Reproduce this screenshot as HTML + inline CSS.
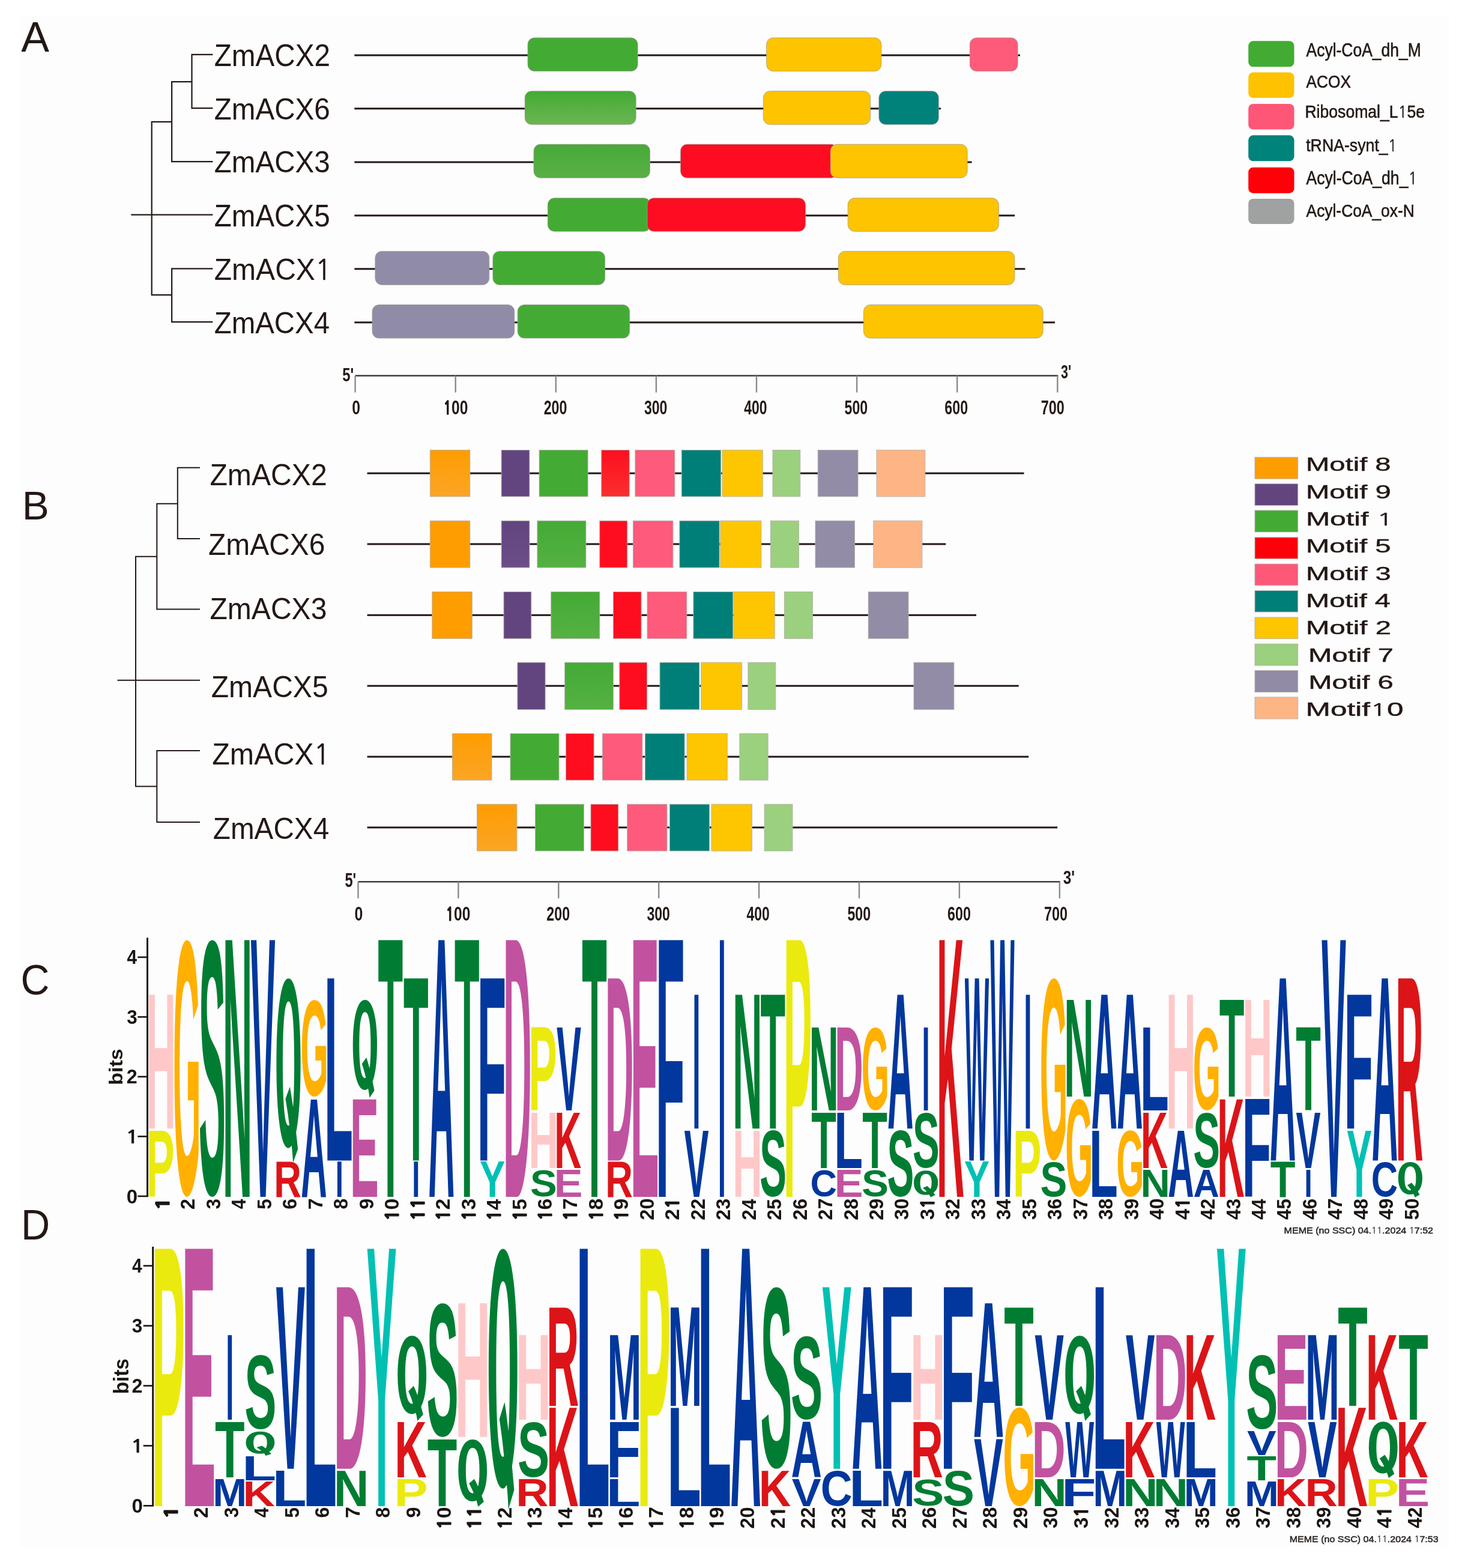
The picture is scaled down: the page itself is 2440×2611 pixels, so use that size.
<!DOCTYPE html>
<html><head><meta charset="utf-8"><title>ZmACX figure</title><style>html,body{margin:0;padding:0;background:#fff;}svg{display:block;}text{font-kerning:none;white-space:pre;}.LSr{font-family:"Liberation Sans",Arial,sans-serif;font-weight:400;}.LSb{font-family:"Liberation Sans",Arial,sans-serif;font-weight:700;}.QF{font-family:"IPAGothic","Liberation Sans",sans-serif;font-weight:700;}.NG{font-family:"NanumGothic","Liberation Sans",sans-serif;font-weight:700;}.NGr{font-family:"NanumGothic","Liberation Sans",sans-serif;font-weight:400;}</style></head><body><svg width="2440" height="2611" viewBox="0 0 2440 2611"><rect x="0" y="0" width="2440" height="2611" fill="#ffffff"/>
<rect x="33" y="27" width="2380" height="2549" fill="#fdfdfd"/>
<text class="LSr" transform="matrix(1.0072 0 0 1 35.363 85.6)" font-size="69.6233" fill="#231815">A</text>
<text class="LSr" transform="matrix(0.998 0 0 1 36.7668 865.1)" font-size="67.5884" fill="#231815">B</text>
<text class="LSr" transform="matrix(0.9545 0 0 1 34.5322 1655.6)" font-size="69.4779" fill="#231815">C</text>
<text class="LSr" transform="matrix(0.9539 0 0 1 34.9293 2063.8)" font-size="69.914" fill="#231815">D</text>
<path d="M319.5 90.9L353.3 90.9M319.5 90.9L319.5 180.2M319.5 180.2L353.3 180.2M286.1 136.1L319.5 136.1M286.1 136.1L286.1 269.2M286.1 269.2L353.3 269.2M252.7 202.9L286.1 202.9M252.7 202.9L252.7 491.2M219.4 357.7L353.3 357.7M252.7 491.2L286.1 491.2M286.1 447.3L286.1 536.2M286.1 447.3L353.3 447.3M286.1 536.2L353.3 536.2" stroke="#231815" stroke-width="2.2" fill="none" stroke-linecap="square"/>
<path d="M295.8 778.8L332 778.8M295.8 778.8L295.8 897.1M295.8 897.1L332 897.1M261.3 838.7L295.8 838.7M261.3 838.7L261.3 1014.4M261.3 1014.4L332 1014.4M226 926.7L261.3 926.7M226 926.7L226 1309.4M196.5 1132.7L332 1132.7M226 1309.4L261.3 1309.4M261.3 1249.9L261.3 1368.9M261.3 1249.9L332 1249.9M261.3 1368.9L332 1368.9" stroke="#231815" stroke-width="2.0" fill="none" stroke-linecap="square"/>
<text class="LSr" transform="matrix(0.9373 0 0 1 356.6866 109.8)" font-size="50.873" fill="#231815">ZmACX2</text>
<text class="LSr" transform="matrix(0.9358 0 0 1 356.689 199.1)" font-size="50.873" fill="#231815">ZmACX6</text>
<text class="LSr" transform="matrix(0.9358 0 0 1 356.689 287.4)" font-size="50.873" fill="#231815">ZmACX3</text>
<text class="LSr" transform="matrix(0.9354 0 0 1 356.6898 377)" font-size="50.873" fill="#231815">ZmACX5</text>
<text class="LSr" transform="matrix(0.9452 0 0 1 356.6739 465.9)" font-size="50.873" fill="#231815">ZmACX<tspan class="NGr" font-size="47.1063" stroke="#231815" stroke-width="0.6105">1</tspan></text>
<text class="LSr" transform="matrix(0.9324 0 0 1 356.6946 554.6)" font-size="50.873" fill="#231815">ZmACX4</text>
<text class="LSr" transform="matrix(0.9599 0 0 1 349.4722 808)" font-size="50.1462" fill="#231815">ZmACX2</text>
<text class="LSr" transform="matrix(0.9559 0 0 1 347.0787 924.2)" font-size="50.1462" fill="#231815">ZmACX6</text>
<text class="LSr" transform="matrix(0.9584 0 0 1 349.4747 1030.9)" font-size="50.1462" fill="#231815">ZmACX3</text>
<text class="LSr" transform="matrix(0.9589 0 0 1 351.6738 1161.2)" font-size="50.1462" fill="#231815">ZmACX5</text>
<text class="LSr" transform="matrix(0.9652 0 0 1 353.2639 1272.7)" font-size="50.1462" fill="#231815">ZmACX<tspan class="NGr" font-size="46.4334" stroke="#231815" stroke-width="0.6018">1</tspan></text>
<text class="LSr" transform="matrix(0.9509 0 0 1 354.7866 1396.8)" font-size="50.1462" fill="#231815">ZmACX4</text>
<defs><linearGradient id="g2" x1="0" y1="0" x2="0" y2="1"><stop offset="0" stop-color="#43ab34"/><stop offset="1" stop-color="#6bb652"/></linearGradient><linearGradient id="g3" x1="0" y1="0" x2="0" y2="1"><stop offset="0" stop-color="#46ab38"/><stop offset="1" stop-color="#5aaf45"/></linearGradient><linearGradient id="gG" x1="0" y1="0" x2="0" y2="1"><stop offset="0" stop-color="#43ab34"/><stop offset="1" stop-color="#55b143"/></linearGradient><linearGradient id="gO" x1="0" y1="0" x2="0" y2="1"><stop offset="0" stop-color="#fe9d00"/><stop offset="1" stop-color="#fba526"/></linearGradient><linearGradient id="gR" x1="0" y1="0" x2="0" y2="1"><stop offset="0" stop-color="#fe0f1f"/><stop offset="1" stop-color="#fa2e2e"/></linearGradient><linearGradient id="gPu" x1="0" y1="0" x2="0" y2="1"><stop offset="0" stop-color="#62457f"/><stop offset="1" stop-color="#6b4d88"/></linearGradient></defs>
<rect x="590.3" y="90.5" width="1108.7" height="3" fill="#231815"/>
<rect x="879" y="62.9" width="183.1" height="55.6" rx="11" ry="11" fill="#43ab34" stroke="#a09a90" stroke-width="0.8"/>
<rect x="1276.6" y="62.9" width="191.2" height="55.6" rx="11" ry="11" fill="#fec400" stroke="#a09a90" stroke-width="0.8"/>
<rect x="1615.3" y="62.9" width="79.8" height="55.6" rx="11" ry="11" fill="#fe5b7a" stroke="#a09a90" stroke-width="0.8"/>
<rect x="590.3" y="179.3" width="976.6" height="3" fill="#231815"/>
<rect x="874.2" y="151.7" width="185" height="55.6" rx="11" ry="11" fill="url(#g2)" stroke="#a09a90" stroke-width="0.8"/>
<rect x="1271.4" y="151.7" width="178.3" height="55.6" rx="11" ry="11" fill="#fec400" stroke="#a09a90" stroke-width="0.8"/>
<rect x="1463.9" y="151.7" width="99.4" height="55.6" rx="11" ry="11" fill="#00827b" stroke="#a09a90" stroke-width="0.8"/>
<rect x="590.3" y="268.5" width="1028.3" height="3" fill="#231815"/>
<rect x="889" y="240.3" width="193.5" height="55.9" rx="11" ry="11" fill="url(#g3)" stroke="#a09a90" stroke-width="0.8"/>
<rect x="1133.5" y="240.3" width="261.5" height="55.9" rx="11" ry="11" fill="#fe0c22" stroke="#a09a90" stroke-width="0.8"/>
<rect x="1383.2" y="240.3" width="227.9" height="55.9" rx="11" ry="11" fill="#fec400" stroke="#a09a90" stroke-width="0.8"/>
<rect x="590.3" y="357.4" width="1099.9" height="3" fill="#231815"/>
<rect x="912.3" y="329.8" width="171.1" height="55.5" rx="11" ry="11" fill="#43ab34" stroke="#a09a90" stroke-width="0.8"/>
<rect x="1078" y="329.8" width="263.5" height="55.5" rx="11" ry="11" fill="#fe0c22" stroke="#a09a90" stroke-width="0.8"/>
<rect x="1412.2" y="329.8" width="251.2" height="55.5" rx="11" ry="11" fill="#fec400" stroke="#a09a90" stroke-width="0.8"/>
<rect x="590.3" y="446.3" width="1117.1" height="3" fill="#231815"/>
<rect x="624.9" y="418.4" width="189.9" height="55.9" rx="11" ry="11" fill="#908ca8" stroke="#a09a90" stroke-width="0.8"/>
<rect x="820.9" y="418.4" width="186.7" height="55.9" rx="11" ry="11" fill="#43ab34" stroke="#a09a90" stroke-width="0.8"/>
<rect x="1396.4" y="418.4" width="293.5" height="55.9" rx="11" ry="11" fill="#fec400" stroke="#a09a90" stroke-width="0.8"/>
<rect x="590.3" y="535.4" width="1166.7" height="3" fill="#231815"/>
<rect x="620" y="507.5" width="236.8" height="55.6" rx="11" ry="11" fill="#908ca8" stroke="#a09a90" stroke-width="0.8"/>
<rect x="862.2" y="507.5" width="186.4" height="55.6" rx="11" ry="11" fill="#43ab34" stroke="#a09a90" stroke-width="0.8"/>
<rect x="1438.4" y="507.5" width="298.7" height="55.6" rx="11" ry="11" fill="#fec400" stroke="#a09a90" stroke-width="0.8"/>
<rect x="591.6" y="624.4" width="1170.7" height="2.4" fill="#3a3330"/><rect x="590.4" y="625.6" width="2.4" height="27.9" fill="#8c8a88"/><rect x="757.5" y="625.6" width="2.4" height="27.9" fill="#8c8a88"/><rect x="924.6" y="625.6" width="2.4" height="27.9" fill="#8c8a88"/><rect x="1091.7" y="625.6" width="2.4" height="27.9" fill="#8c8a88"/><rect x="1258.8" y="625.6" width="2.4" height="27.9" fill="#8c8a88"/><rect x="1425.9" y="625.6" width="2.4" height="27.9" fill="#8c8a88"/><rect x="1593" y="625.6" width="2.4" height="27.9" fill="#8c8a88"/><rect x="1760.1" y="625.6" width="2.4" height="27.9" fill="#8c8a88"/><text class="LSb" transform="matrix(0.7507 0 0 1 586.2187 689.6772)" font-size="33.0505" fill="#231815">0</text><text class="LSb" transform="matrix(0.7437 0 0 1 738.5311 689.6772)" font-size="33.0505" fill="#231815"><tspan class="NG" font-size="30.0374" stroke="#231815" stroke-width="1.322">1</tspan>00</text><text class="LSb" transform="matrix(0.7029 0 0 1 905.6947 689.6772)" font-size="33.0505" fill="#231815">200</text><text class="LSb" transform="matrix(0.6992 0 0 1 1072.9708 689.6296)" font-size="32.9822" fill="#231815">300</text><text class="LSb" transform="matrix(0.6943 0 0 1 1239.3526 689.6772)" font-size="33.0505" fill="#231815">400</text><text class="LSb" transform="matrix(0.7011 0 0 1 1406.5872 689.6772)" font-size="33.0505" fill="#231815">500</text><text class="LSb" transform="matrix(0.7037 0 0 1 1573.3483 689.6772)" font-size="33.0505" fill="#231815">600</text><text class="LSb" transform="matrix(0.7065 0 0 1 1733.7966 689.6772)" font-size="33.0505" fill="#231815">700</text><text class="LSb" transform="matrix(0.751 0 0 1 570.1649 635.0893)" font-size="31.8164" fill="#231815">5'</text><text class="LSb" transform="matrix(0.6765 0 0 1 1766.9054 629.6423)" font-size="31.8546" fill="#231815">3'</text>
<rect x="596.5" y="1467.1" width="1169.3" height="2.4" fill="#3a3330"/><rect x="595.3" y="1468.3" width="2.4" height="27.6" fill="#8c8a88"/><rect x="762.2" y="1468.3" width="2.4" height="27.6" fill="#8c8a88"/><rect x="929.1" y="1468.3" width="2.4" height="27.6" fill="#8c8a88"/><rect x="1096" y="1468.3" width="2.4" height="27.6" fill="#8c8a88"/><rect x="1262.9" y="1468.3" width="2.4" height="27.6" fill="#8c8a88"/><rect x="1429.8" y="1468.3" width="2.4" height="27.6" fill="#8c8a88"/><rect x="1596.7" y="1468.3" width="2.4" height="27.6" fill="#8c8a88"/><rect x="1763.6" y="1468.3" width="2.4" height="27.6" fill="#8c8a88"/><text class="LSb" transform="matrix(0.7605 0 0 1 590.4187 1532.6814)" font-size="32.6268" fill="#231815">0</text><text class="LSb" transform="matrix(0.7534 0 0 1 742.5311 1532.6814)" font-size="32.6268" fill="#231815"><tspan class="NG" font-size="29.6523" stroke="#231815" stroke-width="1.3051">1</tspan>00</text><text class="LSb" transform="matrix(0.712 0 0 1 910.2947 1532.6814)" font-size="32.6268" fill="#231815">200</text><text class="LSb" transform="matrix(0.7083 0 0 1 1077.4708 1532.6343)" font-size="32.5594" fill="#231815">300</text><text class="LSb" transform="matrix(0.7034 0 0 1 1243.4526 1532.6814)" font-size="32.6268" fill="#231815">400</text><text class="LSb" transform="matrix(0.7102 0 0 1 1411.3872 1532.6814)" font-size="32.6268" fill="#231815">500</text><text class="LSb" transform="matrix(0.7129 0 0 1 1578.0483 1532.6814)" font-size="32.6268" fill="#231815">600</text><text class="LSb" transform="matrix(0.7157 0 0 1 1738.9966 1532.6814)" font-size="32.6268" fill="#231815">700</text><text class="LSb" transform="matrix(0.7133 0 0 1 574.4736 1476.6767)" font-size="33.1062" fill="#231815">5'</text><text class="LSb" transform="matrix(0.7571 0 0 1 1770.7416 1472.1391)" font-size="32.1365" fill="#231815">3'</text>
<rect x="2079.2" y="68.3" width="76.3" height="43" rx="8" ry="8" fill="#43ab34"/>
<text class="LSr" transform="matrix(0.8434 0 0 1 2175.5483 93.9)" font-size="31.3959" fill="#231815" stroke="#231815" stroke-width="0.6">Acyl-CoA_dh_M</text>
<rect x="2079.2" y="120.4" width="76.3" height="42.7" rx="8" ry="8" fill="#fec200"/>
<text class="LSr" transform="matrix(0.8942 0 0 1 2175.5487 146.1)" font-size="29.361" fill="#231815" stroke="#231815" stroke-width="0.6">ACOX</text>
<rect x="2079.2" y="173" width="76.3" height="42.6" rx="8" ry="8" fill="#fe5677"/>
<text class="LSr" transform="matrix(0.9105 0 0 1 2173.418 196.4)" font-size="29.2156" fill="#231815" stroke="#231815" stroke-width="0.6">Ribosomal_L<tspan class="NGr" font-size="27.0525" stroke="#231815" stroke-width="0.3506">1</tspan>5e</text>
<rect x="2079.2" y="225.3" width="76.3" height="43" rx="8" ry="8" fill="#00837a"/>
<text class="LSr" transform="matrix(0.8916 0 0 1 2175.1959 252.2)" font-size="29.9424" fill="#231815" stroke="#231815" stroke-width="0.6">tRNA-synt_<tspan class="NGr" font-size="27.7254" stroke="#231815" stroke-width="0.3593">1</tspan></text>
<rect x="2079.2" y="278.7" width="76.3" height="43" rx="8" ry="8" fill="#fe0007"/>
<text class="LSr" transform="matrix(0.867 0 0 1 2175.5481 307.1)" font-size="30.6691" fill="#231815" stroke="#231815" stroke-width="0.6">Acyl-CoA_dh_<tspan class="NGr" font-size="28.3984" stroke="#231815" stroke-width="0.368">1</tspan></text>
<rect x="2079.2" y="330.9" width="76.3" height="42.1" rx="8" ry="8" fill="#a0a1a1"/>
<text class="LSr" transform="matrix(0.8768 0 0 1 2175.5485 361.1)" font-size="30.0877" fill="#231815" stroke="#231815" stroke-width="0.6">Acyl-CoA_ox-N</text>
<rect x="611.6" y="786.6" width="1093.9" height="3" fill="#231815"/>
<rect x="716.3" y="749.4" width="66.5" height="77.5" fill="url(#gO)" stroke="#b4b0aa" stroke-width="0.9"/>
<rect x="835.1" y="749.4" width="46.8" height="77.5" fill="#62457f" stroke="#b4b0aa" stroke-width="0.9"/>
<rect x="898.1" y="749.4" width="81" height="77.5" fill="#43ab34" stroke="#b4b0aa" stroke-width="0.9"/>
<rect x="1001.7" y="749.4" width="46.5" height="77.5" fill="url(#gR)" stroke="#b4b0aa" stroke-width="0.9"/>
<rect x="1057.9" y="749.4" width="65.9" height="77.5" fill="#fe5a7b" stroke="#b4b0aa" stroke-width="0.9"/>
<rect x="1135.2" y="749.4" width="65.5" height="77.5" fill="#007f78" stroke="#b4b0aa" stroke-width="0.9"/>
<rect x="1203" y="749.4" width="67.2" height="77.5" fill="#fec600" stroke="#b4b0aa" stroke-width="0.9"/>
<rect x="1287" y="749.4" width="45.8" height="77.5" fill="#9bd07e" stroke="#b4b0aa" stroke-width="0.9"/>
<rect x="1362.2" y="749.4" width="66.8" height="77.5" fill="#928ca7" stroke="#b4b0aa" stroke-width="0.9"/>
<rect x="1460" y="749.4" width="80.8" height="77.5" fill="#feb585" stroke="#b4b0aa" stroke-width="0.9"/>
<rect x="611.6" y="904.5" width="963.7" height="3" fill="#231815"/>
<rect x="716.3" y="867.2" width="66.5" height="77.9" fill="#fe9d00" stroke="#b4b0aa" stroke-width="0.9"/>
<rect x="835.1" y="867.2" width="46.8" height="77.9" fill="url(#gPu)" stroke="#b4b0aa" stroke-width="0.9"/>
<rect x="894.9" y="867.2" width="81" height="77.9" fill="url(#gG)" stroke="#b4b0aa" stroke-width="0.9"/>
<rect x="998.8" y="867.2" width="45.9" height="77.9" fill="#fe0d1f" stroke="#b4b0aa" stroke-width="0.9"/>
<rect x="1054.4" y="867.2" width="66.5" height="77.9" fill="#fe5a7b" stroke="#b4b0aa" stroke-width="0.9"/>
<rect x="1131.9" y="867.2" width="66.2" height="77.9" fill="#007f78" stroke="#b4b0aa" stroke-width="0.9"/>
<rect x="1199.8" y="867.2" width="68.1" height="77.9" fill="#fec600" stroke="#b4b0aa" stroke-width="0.9"/>
<rect x="1283.4" y="867.2" width="47.1" height="77.9" fill="#9bd07e" stroke="#b4b0aa" stroke-width="0.9"/>
<rect x="1358" y="867.2" width="65.5" height="77.9" fill="#928ca7" stroke="#b4b0aa" stroke-width="0.9"/>
<rect x="1454.9" y="867.2" width="81" height="77.9" fill="#feb585" stroke="#b4b0aa" stroke-width="0.9"/>
<rect x="611.6" y="1022.8" width="1014.4" height="3" fill="#231815"/>
<rect x="719.8" y="985.5" width="66.5" height="77.8" fill="#fe9d00" stroke="#b4b0aa" stroke-width="0.9"/>
<rect x="839" y="985.5" width="45.8" height="77.8" fill="#62457f" stroke="#b4b0aa" stroke-width="0.9"/>
<rect x="917.8" y="985.5" width="81" height="77.8" fill="url(#gG)" stroke="#b4b0aa" stroke-width="0.9"/>
<rect x="1021.4" y="985.5" width="46.6" height="77.8" fill="#fe0d1f" stroke="#b4b0aa" stroke-width="0.9"/>
<rect x="1078" y="985.5" width="65.8" height="77.8" fill="#fe5a7b" stroke="#b4b0aa" stroke-width="0.9"/>
<rect x="1154.9" y="985.5" width="65.9" height="77.8" fill="#007f78" stroke="#b4b0aa" stroke-width="0.9"/>
<rect x="1222" y="985.5" width="68.2" height="77.8" fill="#fec600" stroke="#b4b0aa" stroke-width="0.9"/>
<rect x="1306.3" y="985.5" width="47.2" height="77.8" fill="#9bd07e" stroke="#b4b0aa" stroke-width="0.9"/>
<rect x="1446.2" y="985.5" width="66.8" height="77.8" fill="#928ca7" stroke="#b4b0aa" stroke-width="0.9"/>
<rect x="611.6" y="1140.6" width="1085.1" height="3" fill="#231815"/>
<rect x="861.9" y="1103.1" width="46.2" height="78.4" fill="#62457f" stroke="#b4b0aa" stroke-width="0.9"/>
<rect x="940.7" y="1103.1" width="80.7" height="78.4" fill="url(#gG)" stroke="#b4b0aa" stroke-width="0.9"/>
<rect x="1031.8" y="1103.1" width="45.8" height="78.4" fill="#fe0d1f" stroke="#b4b0aa" stroke-width="0.9"/>
<rect x="1099" y="1103.1" width="65.8" height="78.4" fill="#007f78" stroke="#b4b0aa" stroke-width="0.9"/>
<rect x="1167.8" y="1103.1" width="67.8" height="78.4" fill="#fec600" stroke="#b4b0aa" stroke-width="0.9"/>
<rect x="1245.9" y="1103.1" width="45.9" height="78.4" fill="#9bd07e" stroke="#b4b0aa" stroke-width="0.9"/>
<rect x="1522" y="1103.1" width="66.9" height="78.4" fill="#928ca7" stroke="#b4b0aa" stroke-width="0.9"/>
<rect x="611.6" y="1258.6" width="1101.6" height="3" fill="#231815"/>
<rect x="753.4" y="1221.6" width="65.6" height="77.5" fill="url(#gO)" stroke="#b4b0aa" stroke-width="0.9"/>
<rect x="850" y="1221.6" width="81" height="77.5" fill="#43ab34" stroke="#b4b0aa" stroke-width="0.9"/>
<rect x="942.6" y="1221.6" width="46.5" height="77.5" fill="#fe0d1f" stroke="#b4b0aa" stroke-width="0.9"/>
<rect x="1003.4" y="1221.6" width="66.5" height="77.5" fill="#fe5a7b" stroke="#b4b0aa" stroke-width="0.9"/>
<rect x="1074.4" y="1221.6" width="65.7" height="77.5" fill="#007f78" stroke="#b4b0aa" stroke-width="0.9"/>
<rect x="1144.1" y="1221.6" width="67.2" height="77.5" fill="#fec600" stroke="#b4b0aa" stroke-width="0.9"/>
<rect x="1231.9" y="1221.6" width="47.2" height="77.5" fill="#9bd07e" stroke="#b4b0aa" stroke-width="0.9"/>
<rect x="611.6" y="1376.4" width="1149.6" height="3" fill="#231815"/>
<rect x="794.4" y="1339.2" width="66.5" height="77.8" fill="url(#gO)" stroke="#b4b0aa" stroke-width="0.9"/>
<rect x="891.6" y="1339.2" width="80.8" height="77.8" fill="#43ab34" stroke="#b4b0aa" stroke-width="0.9"/>
<rect x="984" y="1339.2" width="45.8" height="77.8" fill="#fe0d1f" stroke="#b4b0aa" stroke-width="0.9"/>
<rect x="1044.7" y="1339.2" width="66.2" height="77.8" fill="#fe5a7b" stroke="#b4b0aa" stroke-width="0.9"/>
<rect x="1115.4" y="1339.2" width="66.1" height="77.8" fill="#007f78" stroke="#b4b0aa" stroke-width="0.9"/>
<rect x="1185" y="1339.2" width="67.5" height="77.8" fill="#fec600" stroke="#b4b0aa" stroke-width="0.9"/>
<rect x="1273.1" y="1339.2" width="46.9" height="77.8" fill="#9bd07e" stroke="#b4b0aa" stroke-width="0.9"/>
<rect x="2090" y="761.3" width="71.7" height="35.9" fill="#fe9d00" stroke="#b4b0aa" stroke-width="0.9"/>
<text class="LSr" transform="matrix(1.4962 0 0 1 2175.0288 784.2)" font-size="31.5412" fill="#231815" stroke="#231815" stroke-width="0.45">Motif 8</text>
<rect x="2090" y="805.7" width="71.7" height="36" fill="#62457f" stroke="#b4b0aa" stroke-width="0.9"/>
<text class="LSr" transform="matrix(1.4982 0 0 1 2175.0235 829.8)" font-size="31.5412" fill="#231815" stroke="#231815" stroke-width="0.45">Motif 9</text>
<rect x="2090" y="849.9" width="71.7" height="36" fill="#43ab34" stroke="#b4b0aa" stroke-width="0.9"/>
<text class="LSr" transform="matrix(1.5299 0 0 1 2174.9417 875.2)" font-size="31.5412" fill="#231815" stroke="#231815" stroke-width="0.45">Motif <tspan class="NGr" font-size="29.2059" stroke="#231815" stroke-width="0.3785">1</tspan></text>
<rect x="2090" y="894.9" width="71.7" height="35.4" fill="#fe0009" stroke="#b4b0aa" stroke-width="0.9"/>
<text class="LSr" transform="matrix(1.4954 0 0 1 2175.0308 920.4)" font-size="31.5412" fill="#231815" stroke="#231815" stroke-width="0.45">Motif 5</text>
<rect x="2090" y="939.1" width="71.7" height="35.7" fill="#fe5879" stroke="#b4b0aa" stroke-width="0.9"/>
<text class="LSr" transform="matrix(1.4965 0 0 1 2175.0281 965.8)" font-size="31.5412" fill="#231815" stroke="#231815" stroke-width="0.45">Motif 3</text>
<rect x="2090" y="983.5" width="71.7" height="35.5" fill="#007f78" stroke="#b4b0aa" stroke-width="0.9"/>
<text class="LSr" transform="matrix(1.4889 0 0 1 2175.0478 1010.7)" font-size="31.5412" fill="#231815" stroke="#231815" stroke-width="0.45">Motif 4</text>
<rect x="2090" y="1028" width="71.7" height="35.5" fill="#fec600" stroke="#b4b0aa" stroke-width="0.9"/>
<text class="LSr" transform="matrix(1.4998 0 0 1 2175.0196 1056.1)" font-size="31.5412" fill="#231815" stroke="#231815" stroke-width="0.45">Motif 2</text>
<rect x="2090" y="1072.2" width="71.7" height="35.9" fill="#9bd07e" stroke="#b4b0aa" stroke-width="0.9"/>
<text class="LSr" transform="matrix(1.4998 0 0 1 2179.1196 1101.7)" font-size="31.5412" fill="#231815" stroke="#231815" stroke-width="0.45">Motif 7</text>
<rect x="2090" y="1116.4" width="71.7" height="36.2" fill="#918ba6" stroke="#b4b0aa" stroke-width="0.9"/>
<text class="LSr" transform="matrix(1.4965 0 0 1 2179.1281 1146.7)" font-size="31.5412" fill="#231815" stroke="#231815" stroke-width="0.45">Motif 6</text>
<rect x="2090" y="1160.9" width="71.7" height="36.1" fill="#feb584" stroke="#b4b0aa" stroke-width="0.9"/>
<text class="LSr" transform="matrix(1.5696 0 0 1 2174.8389 1192.3)" font-size="31.5412" fill="#231815" stroke="#231815" stroke-width="0.45">Motif<tspan class="NGr" font-size="29.2059" stroke="#231815" stroke-width="0.3785">1</tspan>0</text>
<text class="LSb" transform="matrix(0.7104 0 0 1.6032 243.3126 1993)" font-size="100" fill="#ebea0e">P</text><text class="LSb" transform="matrix(0.6838 0 0 3.2399 243.4902 1879.3)" font-size="100" fill="#ffc8c8">H</text><text class="LSb" transform="matrix(0.5957 0 0 6.0395 288.0856 1987.1021)" font-size="100" fill="#ffb000">G</text><text class="LSb" transform="matrix(0.671 0 0 6.0395 331.0605 1987.1021)" font-size="100" fill="#017d33">S</text><text class="LSb" transform="matrix(0.6838 0 0 6.2152 370.8837 1993)" font-size="100" fill="#017d33">N</text><text class="LSb" transform="matrix(0.6153 0 0 6.2152 417.5019 1993)" font-size="100" fill="#02379d">V</text><text class="LSb" transform="matrix(0.6333 0 0 0.8459 456.1505 1993)" font-size="100" fill="#dc1418">R</text><text class="QF" transform="matrix(0.9148 0 0 3.6625 457.6177 1917.2992)" font-size="100" fill="#017d33">Q</text><text class="LSb" transform="matrix(0.5992 0 0 2.3591 501.3594 1993)" font-size="100" fill="#02379d">A</text><text class="LSb" transform="matrix(0.5957 0 0 2.2697 500.4081 1823.8834)" font-size="100" fill="#ffb000">G</text><text class="LSb" transform="matrix(0.4721 0 0 0.8459 558.858 1993)" font-size="100" fill="#02379d">I</text><text class="LSb" transform="matrix(0.7833 0 0 4.4085 540.0758 1932.5)" font-size="100" fill="#02379d">L</text><text class="LSb" transform="matrix(0.7165 0 0 2.3591 582.9873 1993)" font-size="100" fill="#c152a0">E</text><text class="QF" transform="matrix(0.9148 0 0 1.9405 585.0112 1818.046)" font-size="100" fill="#017d33">Q</text><text class="LSb" transform="matrix(0.6827 0 0 6.2152 629.4783 1993)" font-size="100" fill="#017d33">T</text><text class="LSb" transform="matrix(0.4721 0 0 0.8459 686.2515 1993)" font-size="100" fill="#02379d">I</text><text class="LSb" transform="matrix(0.6827 0 0 4.4085 671.9428 1932.5)" font-size="100" fill="#017d33">T</text><text class="LSb" transform="matrix(0.5992 0 0 6.2152 713.6819 1993)" font-size="100" fill="#02379d">A</text><text class="LSb" transform="matrix(0.6827 0 0 6.2152 756.8718 1993)" font-size="100" fill="#017d33">T</text><text class="LSb" transform="matrix(0.6343 0 0 0.8459 799.019 1993)" font-size="100" fill="#00c0b4">Y</text><text class="LSb" transform="matrix(0.7924 0 0 4.4085 794.8023 1932.5)" font-size="100" fill="#02379d">F</text><text class="LSb" transform="matrix(0.6555 0 0 6.2152 838.1826 1993)" font-size="100" fill="#c152a0">D</text><text class="LSb" transform="matrix(0.671 0 0 0.6299 883.099 1992.3848)" font-size="100" fill="#017d33">S</text><text class="LSb" transform="matrix(0.6838 0 0 1.3329 880.4577 1945)" font-size="100" fill="#ffc8c8">H</text><text class="LSb" transform="matrix(0.7104 0 0 2.0073 880.2801 1848.8)" font-size="100" fill="#ebea0e">P</text><text class="LSb" transform="matrix(0.7165 0 0 0.6483 922.7033 1993)" font-size="100" fill="#c152a0">E</text><text class="LSb" transform="matrix(0.6223 0 0 1.3329 923.3337 1945)" font-size="100" fill="#dc1418">K</text><text class="LSb" transform="matrix(0.6153 0 0 2.0073 927.0759 1848.8)" font-size="100" fill="#02379d">V</text><text class="LSb" transform="matrix(0.6827 0 0 6.2152 969.1943 1993)" font-size="100" fill="#017d33">T</text><text class="LSb" transform="matrix(0.6333 0 0 0.8459 1008.189 1993)" font-size="100" fill="#dc1418">R</text><text class="LSb" transform="matrix(0.6555 0 0 4.4085 1008.0406 1932.5)" font-size="100" fill="#c152a0">D</text><text class="LSb" transform="matrix(0.7165 0 0 6.2152 1050.0968 1993)" font-size="100" fill="#c152a0">E</text><text class="LSb" transform="matrix(0.7924 0 0 6.2152 1092.0538 1993)" font-size="100" fill="#02379d">F</text><text class="LSb" transform="matrix(0.6153 0 0 1.6032 1139.3984 1993)" font-size="100" fill="#02379d">V</text><text class="LSb" transform="matrix(0.4721 0 0 3.2399 1153.361 1879.3)" font-size="100" fill="#02379d">I</text><text class="LSb" transform="matrix(0.4721 0 0 6.2152 1195.8255 1993)" font-size="100" fill="#02379d">I</text><text class="LSb" transform="matrix(0.6838 0 0 1.6032 1220.1737 1993)" font-size="100" fill="#ffc8c8">H</text><text class="LSb" transform="matrix(0.6838 0 0 3.2399 1220.1737 1879.3)" font-size="100" fill="#017d33">N</text><text class="LSb" transform="matrix(0.671 0 0 1.5579 1265.2795 1991.4786)" font-size="100" fill="#017d33">S</text><text class="LSb" transform="matrix(0.6827 0 0 3.2399 1266.4458 1879.3)" font-size="100" fill="#017d33">T</text><text class="LSb" transform="matrix(0.7104 0 0 6.2152 1304.9251 1993)" font-size="100" fill="#ebea0e">P</text><text class="LSb" transform="matrix(0.6149 0 0 0.6299 1349.6196 1992.3848)" font-size="100" fill="#02379d">C</text><text class="LSb" transform="matrix(0.6827 0 0 1.3329 1351.3748 1945)" font-size="100" fill="#017d33">T</text><text class="LSb" transform="matrix(0.6838 0 0 2.0073 1347.5672 1848.8)" font-size="100" fill="#017d33">N</text><text class="LSb" transform="matrix(0.7165 0 0 0.6483 1389.8128 1993)" font-size="100" fill="#c152a0">E</text><text class="LSb" transform="matrix(0.7833 0 0 1.3329 1389.3658 1945)" font-size="100" fill="#02379d">L</text><text class="LSb" transform="matrix(0.6555 0 0 2.0073 1390.2211 1848.8)" font-size="100" fill="#c152a0">D</text><text class="LSb" transform="matrix(0.671 0 0 0.6299 1435.1375 1992.3848)" font-size="100" fill="#017d33">S</text><text class="LSb" transform="matrix(0.6827 0 0 1.3329 1436.3038 1945)" font-size="100" fill="#017d33">T</text><text class="LSb" transform="matrix(0.5957 0 0 1.9505 1434.6271 1846.8952)" font-size="100" fill="#ffb000">G</text><text class="LSb" transform="matrix(0.671 0 0 1.5579 1477.602 1991.4786)" font-size="100" fill="#017d33">S</text><text class="LSb" transform="matrix(0.5992 0 0 3.2399 1478.0429 1879.3)" font-size="100" fill="#02379d">A</text><text class="QF" transform="matrix(0.9148 0 0 0.5386 1519.2302 1990.7647)" font-size="100" fill="#017d33">Q</text><text class="LSb" transform="matrix(0.671 0 0 1.2952 1520.0665 1943.7352)" font-size="100" fill="#017d33">S</text><text class="LSb" transform="matrix(0.4721 0 0 2.0073 1535.5415 1848.8)" font-size="100" fill="#02379d">I</text><text class="LSb" transform="matrix(0.6223 0 0 6.2152 1560.3012 1993)" font-size="100" fill="#dc1418">K</text><text class="LSb" transform="matrix(0.6343 0 0 0.8459 1605.8445 1993)" font-size="100" fill="#00c0b4">Y</text><text class="LSb" transform="matrix(0.4268 0 0 4.4085 1606.8868 1932.5)" font-size="100" fill="#02379d">W</text><text class="LSb" transform="matrix(0.4268 0 0 6.2152 1649.3513 1993)" font-size="100" fill="#02379d">W</text><text class="LSb" transform="matrix(0.7104 0 0 1.6032 1687.1056 1993)" font-size="100" fill="#ebea0e">P</text><text class="LSb" transform="matrix(0.4721 0 0 3.2399 1705.3995 1879.3)" font-size="100" fill="#02379d">I</text><text class="LSb" transform="matrix(0.671 0 0 0.822 1732.389 1992.1972)" font-size="100" fill="#017d33">S</text><text class="LSb" transform="matrix(0.5957 0 0 4.2839 1731.8786 1928.3166)" font-size="100" fill="#ffb000">G</text><text class="LSb" transform="matrix(0.5957 0 0 2.2923 1774.3431 1990.7614)" font-size="100" fill="#ffb000">G</text><text class="LSb" transform="matrix(0.6838 0 0 2.3358 1772.2122 1826.1)" font-size="100" fill="#017d33">N</text><text class="LSb" transform="matrix(0.7833 0 0 1.6032 1814.0108 1993)" font-size="100" fill="#02379d">L</text><text class="LSb" transform="matrix(0.5992 0 0 3.2399 1817.7589 1879.3)" font-size="100" fill="#02379d">A</text><text class="LSb" transform="matrix(0.5957 0 0 1.5579 1859.2721 1991.4786)" font-size="100" fill="#ffb000">G</text><text class="LSb" transform="matrix(0.5992 0 0 3.2399 1860.2234 1879.3)" font-size="100" fill="#02379d">A</text><text class="LSb" transform="matrix(0.6838 0 0 0.6483 1899.6057 1993)" font-size="100" fill="#017d33">N</text><text class="LSb" transform="matrix(0.6223 0 0 1.3329 1900.0172 1945)" font-size="100" fill="#dc1418">K</text><text class="LSb" transform="matrix(0.7833 0 0 2.0073 1898.9398 1848.8)" font-size="100" fill="#02379d">L</text><text class="LSb" transform="matrix(0.5992 0 0 1.6032 1945.1524 1993)" font-size="100" fill="#02379d">A</text><text class="LSb" transform="matrix(0.6838 0 0 3.2399 1942.0702 1879.3)" font-size="100" fill="#ffc8c8">H</text><text class="LSb" transform="matrix(0.5992 0 0 0.6483 1987.6169 1993)" font-size="100" fill="#02379d">A</text><text class="LSb" transform="matrix(0.671 0 0 1.2952 1987.176 1943.7352)" font-size="100" fill="#017d33">S</text><text class="LSb" transform="matrix(0.5957 0 0 1.9505 1986.6656 1846.8952)" font-size="100" fill="#ffb000">G</text><text class="LSb" transform="matrix(0.6223 0 0 2.3591 2027.4107 1993)" font-size="100" fill="#dc1418">K</text><text class="LSb" transform="matrix(0.6827 0 0 2.3358 2030.8068 1826.1)" font-size="100" fill="#017d33">T</text><text class="LSb" transform="matrix(0.7924 0 0 2.3591 2068.7373 1993)" font-size="100" fill="#02379d">F</text><text class="LSb" transform="matrix(0.6838 0 0 2.3358 2069.4637 1826.1)" font-size="100" fill="#ffc8c8">H</text><text class="LSb" transform="matrix(0.6827 0 0 0.8459 2115.7358 1993)" font-size="100" fill="#017d33">T</text><text class="LSb" transform="matrix(0.5992 0 0 4.4085 2115.0104 1932.5)" font-size="100" fill="#02379d">A</text><text class="LSb" transform="matrix(0.4721 0 0 0.6483 2172.509 1993)" font-size="100" fill="#02379d">I</text><text class="LSb" transform="matrix(0.6153 0 0 1.3329 2158.5464 1945)" font-size="100" fill="#02379d">V</text><text class="LSb" transform="matrix(0.6827 0 0 2.0073 2158.2003 1848.8)" font-size="100" fill="#017d33">T</text><text class="LSb" transform="matrix(0.6153 0 0 6.2152 2201.0109 1993)" font-size="100" fill="#02379d">V</text><text class="LSb" transform="matrix(0.6343 0 0 1.6032 2242.812 1993)" font-size="100" fill="#00c0b4">Y</text><text class="LSb" transform="matrix(0.7924 0 0 3.2399 2238.5953 1879.3)" font-size="100" fill="#02379d">F</text><text class="LSb" transform="matrix(0.6149 0 0 0.822 2283.8386 1992.1972)" font-size="100" fill="#02379d">C</text><text class="LSb" transform="matrix(0.5992 0 0 4.4085 2284.8684 1932.5)" font-size="100" fill="#02379d">A</text><text class="QF" transform="matrix(0.9148 0 0 0.7028 2326.0557 1990.0831)" font-size="100" fill="#017d33">Q</text><text class="LSb" transform="matrix(0.6333 0 0 4.4085 2324.5885 1932.5)" font-size="100" fill="#dc1418">R</text>
<text class="LSb" transform="matrix(0.8446 0 0 6.2283 252.1958 2508)" font-size="100" fill="#ebea0e">P</text><text class="LSb" transform="matrix(0.852 0 0 6.2283 302.6926 2508)" font-size="100" fill="#c152a0">E</text><text class="LSb" transform="matrix(0.6836 0 0 0.6454 354.365 2508)" font-size="100" fill="#02379d">M</text><text class="LSb" transform="matrix(0.8117 0 0 1.343 358.0264 2460)" font-size="100" fill="#017d33">T</text><text class="LSb" transform="matrix(0.4721 0 0 2.0335 376.28 2363.8)" font-size="100" fill="#02379d">I</text><text class="LSb" transform="matrix(0.7399 0 0 0.5843 404.5342 2508)" font-size="100" fill="#dc1418">K</text><text class="LSb" transform="matrix(0.9314 0 0 0.5669 403.2532 2465)" font-size="100" fill="#02379d">L</text><text class="QF" transform="matrix(1.0877 0 0 0.477 406.1911 2420.5203)" font-size="100" fill="#017d33">Q</text><text class="LSb" transform="matrix(0.7978 0 0 1.7429 407.1855 2378.3979)" font-size="100" fill="#017d33">S</text><text class="LSb" transform="matrix(0.9314 0 0 0.8561 453.7992 2508)" font-size="100" fill="#02379d">L</text><text class="LSb" transform="matrix(0.7316 0 0 4.3911 459.5299 2445.7)" font-size="100" fill="#02379d">V</text><text class="LSb" transform="matrix(0.9314 0 0 6.2283 504.3452 2508)" font-size="100" fill="#02379d">L</text><text class="LSb" transform="matrix(0.8131 0 0 0.8561 555.683 2508)" font-size="100" fill="#017d33">N</text><text class="LSb" transform="matrix(0.7794 0 0 4.3911 555.9081 2445.7)" font-size="100" fill="#c152a0">D</text><text class="LSb" transform="matrix(0.7542 0 0 6.2283 610.3791 2508)" font-size="100" fill="#00c0b4">Y</text><text class="LSb" transform="matrix(0.8446 0 0 0.6454 656.5638 2508)" font-size="100" fill="#ebea0e">P</text><text class="LSb" transform="matrix(0.7399 0 0 1.343 657.2642 2460)" font-size="100" fill="#dc1418">K</text><text class="QF" transform="matrix(1.0877 0 0 1.6894 658.9211 2356.7885)" font-size="100" fill="#017d33">Q</text><text class="LSb" transform="matrix(0.8117 0 0 1.6119 711.8484 2508)" font-size="100" fill="#017d33">T</text><text class="LSb" transform="matrix(0.7978 0 0 3.144 710.4615 2389.7297)" font-size="100" fill="#017d33">S</text><text class="QF" transform="matrix(1.0877 0 0 1.3392 760.0131 2502.4419)" font-size="100" fill="#017d33">Q</text><text class="LSb" transform="matrix(0.8131 0 0 3.2355 757.867 2392.8)" font-size="100" fill="#ffc8c8">H</text><text class="QF" transform="matrix(1.0877 0 0 5.1743 810.5591 2486.5245)" font-size="100" fill="#017d33">Q</text><text class="LSb" transform="matrix(0.753 0 0 0.6454 859.3606 2508)" font-size="100" fill="#dc1418">R</text><text class="LSb" transform="matrix(0.7978 0 0 1.3051 862.0995 2458.7255)" font-size="100" fill="#017d33">S</text><text class="LSb" transform="matrix(0.8131 0 0 2.0335 858.959 2363.8)" font-size="100" fill="#ffc8c8">H</text><text class="LSb" transform="matrix(0.7399 0 0 2.3794 909.9942 2508)" font-size="100" fill="#dc1418">K</text><text class="LSb" transform="matrix(0.753 0 0 2.3692 909.9066 2340.5)" font-size="100" fill="#dc1418">R</text><text class="LSb" transform="matrix(0.9314 0 0 6.2283 959.2592 2508)" font-size="100" fill="#02379d">L</text><text class="LSb" transform="matrix(0.9314 0 0 0.6454 1009.8052 2508)" font-size="100" fill="#02379d">L</text><text class="LSb" transform="matrix(0.9422 0 0 1.343 1009.7332 2460)" font-size="100" fill="#02379d">F</text><text class="LSb" transform="matrix(0.6836 0 0 2.0335 1011.463 2363.8)" font-size="100" fill="#02379d">M</text><text class="LSb" transform="matrix(0.8446 0 0 6.2283 1060.9318 2508)" font-size="100" fill="#ebea0e">P</text><text class="LSb" transform="matrix(0.9314 0 0 2.3794 1110.8972 2508)" font-size="100" fill="#02379d">L</text><text class="LSb" transform="matrix(0.6836 0 0 2.3692 1112.555 2340.5)" font-size="100" fill="#02379d">M</text><text class="LSb" transform="matrix(0.9314 0 0 6.2283 1161.4432 2508)" font-size="100" fill="#02379d">L</text><text class="LSb" transform="matrix(0.7125 0 0 6.2283 1216.4458 2508)" font-size="100" fill="#02379d">A</text><text class="LSb" transform="matrix(0.7399 0 0 0.8561 1263.8162 2508)" font-size="100" fill="#dc1418">K</text><text class="LSb" transform="matrix(0.7978 0 0 4.2669 1266.4675 2441.5331)" font-size="100" fill="#017d33">S</text><text class="LSb" transform="matrix(0.7316 0 0 0.6454 1318.8119 2508)" font-size="100" fill="#02379d">V</text><text class="LSb" transform="matrix(0.7125 0 0 1.343 1317.5378 2460)" font-size="100" fill="#02379d">A</text><text class="LSb" transform="matrix(0.7978 0 0 1.976 1317.0135 2361.8703)" font-size="100" fill="#017d33">S</text><text class="LSb" transform="matrix(0.7311 0 0 0.8319 1366.8593 2507.1876)" font-size="100" fill="#02379d">C</text><text class="LSb" transform="matrix(0.7542 0 0 4.3911 1368.5691 2445.7)" font-size="100" fill="#00c0b4">Y</text><text class="LSb" transform="matrix(0.9314 0 0 0.8561 1414.1732 2508)" font-size="100" fill="#02379d">L</text><text class="LSb" transform="matrix(0.7125 0 0 4.3911 1418.6298 2445.7)" font-size="100" fill="#02379d">A</text><text class="LSb" transform="matrix(0.6836 0 0 0.8561 1466.377 2508)" font-size="100" fill="#02379d">M</text><text class="LSb" transform="matrix(0.9422 0 0 4.3911 1464.6472 2445.7)" font-size="100" fill="#02379d">F</text><text class="LSb" transform="matrix(0.7978 0 0 0.6271 1519.1975 2507.3876)" font-size="100" fill="#017d33">S</text><text class="LSb" transform="matrix(0.753 0 0 1.343 1516.4586 2460)" font-size="100" fill="#dc1418">R</text><text class="LSb" transform="matrix(0.8131 0 0 2.0335 1516.057 2363.8)" font-size="100" fill="#ffc8c8">H</text><text class="LSb" transform="matrix(0.7978 0 0 0.8319 1569.7435 2507.1876)" font-size="100" fill="#017d33">S</text><text class="LSb" transform="matrix(0.9422 0 0 4.3911 1565.7392 2445.7)" font-size="100" fill="#02379d">F</text><text class="LSb" transform="matrix(0.7316 0 0 1.6119 1622.0879 2508)" font-size="100" fill="#02379d">V</text><text class="LSb" transform="matrix(0.7125 0 0 3.2355 1620.8138 2392.8)" font-size="100" fill="#02379d">A</text><text class="LSb" transform="matrix(0.7084 0 0 2.3121 1670.2286 2505.7421)" font-size="100" fill="#ffb000">G</text><text class="LSb" transform="matrix(0.8117 0 0 2.3692 1672.2224 2340.5)" font-size="100" fill="#017d33">T</text><text class="LSb" transform="matrix(0.8131 0 0 0.6454 1718.241 2508)" font-size="100" fill="#017d33">N</text><text class="LSb" transform="matrix(0.7794 0 0 1.343 1718.4661 2460)" font-size="100" fill="#c152a0">D</text><text class="LSb" transform="matrix(0.7316 0 0 2.0335 1723.1799 2363.8)" font-size="100" fill="#02379d">V</text><text class="LSb" transform="matrix(0.9422 0 0 0.6454 1767.9232 2508)" font-size="100" fill="#02379d">F</text><text class="LSb" transform="matrix(0.5075 0 0 1.343 1774.1764 2460)" font-size="100" fill="#02379d">W</text><text class="QF" transform="matrix(1.0877 0 0 1.6894 1770.9331 2356.7885)" font-size="100" fill="#017d33">Q</text><text class="LSb" transform="matrix(0.6836 0 0 0.8561 1820.199 2508)" font-size="100" fill="#02379d">M</text><text class="LSb" transform="matrix(0.9314 0 0 4.3911 1818.5412 2445.7)" font-size="100" fill="#02379d">L</text><text class="LSb" transform="matrix(0.8131 0 0 0.6454 1869.879 2508)" font-size="100" fill="#017d33">N</text><text class="LSb" transform="matrix(0.7399 0 0 1.343 1870.3682 2460)" font-size="100" fill="#dc1418">K</text><text class="LSb" transform="matrix(0.7316 0 0 2.0335 1874.8179 2363.8)" font-size="100" fill="#02379d">V</text><text class="LSb" transform="matrix(0.8131 0 0 0.6454 1920.425 2508)" font-size="100" fill="#017d33">N</text><text class="LSb" transform="matrix(0.5075 0 0 1.343 1925.8144 2460)" font-size="100" fill="#02379d">W</text><text class="LSb" transform="matrix(0.7794 0 0 2.0335 1920.6501 2363.8)" font-size="100" fill="#c152a0">D</text><text class="LSb" transform="matrix(0.6836 0 0 0.6454 1971.837 2508)" font-size="100" fill="#02379d">M</text><text class="LSb" transform="matrix(0.9314 0 0 1.343 1970.1792 2460)" font-size="100" fill="#02379d">L</text><text class="LSb" transform="matrix(0.7399 0 0 2.0335 1971.4602 2363.8)" font-size="100" fill="#dc1418">K</text><text class="LSb" transform="matrix(0.7542 0 0 6.2283 2025.6671 2508)" font-size="100" fill="#00c0b4">Y</text><text class="LSb" transform="matrix(0.6836 0 0 0.5843 2072.929 2508)" font-size="100" fill="#02379d">M</text><text class="LSb" transform="matrix(0.8117 0 0 0.5669 2076.5904 2465)" font-size="100" fill="#017d33">T</text><text class="LSb" transform="matrix(0.7316 0 0 0.5741 2077.0019 2422.5)" font-size="100" fill="#02379d">V</text><text class="LSb" transform="matrix(0.7978 0 0 1.7429 2075.2035 2378.3979)" font-size="100" fill="#017d33">S</text><text class="LSb" transform="matrix(0.7399 0 0 0.6454 2123.0982 2508)" font-size="100" fill="#dc1418">K</text><text class="LSb" transform="matrix(0.7794 0 0 1.343 2122.8341 2460)" font-size="100" fill="#c152a0">D</text><text class="LSb" transform="matrix(0.852 0 0 2.0335 2122.3486 2363.8)" font-size="100" fill="#c152a0">E</text><text class="LSb" transform="matrix(0.753 0 0 0.6454 2173.5566 2508)" font-size="100" fill="#dc1418">R</text><text class="LSb" transform="matrix(0.7316 0 0 1.343 2178.0939 2460)" font-size="100" fill="#02379d">V</text><text class="LSb" transform="matrix(0.6836 0 0 2.0335 2174.021 2363.8)" font-size="100" fill="#02379d">M</text><text class="LSb" transform="matrix(0.7399 0 0 2.3794 2224.1902 2508)" font-size="100" fill="#dc1418">K</text><text class="LSb" transform="matrix(0.8117 0 0 2.3692 2228.2284 2340.5)" font-size="100" fill="#017d33">T</text><text class="LSb" transform="matrix(0.8446 0 0 0.6454 2274.0358 2508)" font-size="100" fill="#ebea0e">P</text><text class="QF" transform="matrix(1.0877 0 0 1.1158 2276.3931 2455.3691)" font-size="100" fill="#017d33">Q</text><text class="LSb" transform="matrix(0.7399 0 0 2.0335 2274.7362 2363.8)" font-size="100" fill="#dc1418">K</text><text class="LSb" transform="matrix(0.852 0 0 0.6454 2324.5326 2508)" font-size="100" fill="#c152a0">E</text><text class="LSb" transform="matrix(0.7399 0 0 1.343 2325.2822 2460)" font-size="100" fill="#dc1418">K</text><text class="LSb" transform="matrix(0.8117 0 0 2.0335 2329.3204 2363.8)" font-size="100" fill="#017d33">T</text>
<rect x="244" y="1561.5" width="3" height="431.6" fill="#1a1512"/><rect x="229.4" y="1990.6" width="16.1" height="2.6" fill="#1a1512"/><text class="LSb" transform="matrix(0.331 0 0 0.3295 210.8227 2003.5462)" font-size="100" fill="#1a1512">0</text><rect x="229.4" y="1891.1" width="16.1" height="2.6" fill="#1a1512"/><text class="NG" transform="matrix(0.3946 0 0 0.2989 208.248 1903.6703)" font-size="100" fill="#1a1512">1</text><rect x="229.4" y="1791.6" width="16.1" height="2.6" fill="#1a1512"/><text class="LSb" transform="matrix(0.3224 0 0 0.3254 210.8224 1804.26)" font-size="100" fill="#1a1512">2</text><rect x="229.4" y="1692.1" width="16.1" height="2.6" fill="#1a1512"/><text class="LSb" transform="matrix(0.3148 0 0 0.3288 211.2495 1704.9987)" font-size="100" fill="#1a1512">3</text><rect x="229.4" y="1592.6" width="16.1" height="2.6" fill="#1a1512"/><text class="LSb" transform="matrix(0.2981 0 0 0.3302 211.5208 1605.26)" font-size="100" fill="#1a1512">4</text><g transform="translate(282.0245 0) rotate(-90)"><text class="LSb" transform="matrix(1.3148 0 0 1 -2016.452 0)" font-size="33.0238" fill="#1a1512"><tspan class="NG" font-size="30.0132" stroke="#1a1512" stroke-width="1.321">1</tspan></text></g><g transform="translate(324.489 0) rotate(-90)"><text class="LSb" transform="matrix(0.9762 0 0 1 -2013.8776 0)" font-size="33.0238" fill="#1a1512">2</text></g><g transform="translate(366.9535 0) rotate(-90)"><text class="LSb" transform="matrix(0.9533 0 0 1 -2013.4505 0)" font-size="33.0238" fill="#1a1512">3</text></g><g transform="translate(409.418 0) rotate(-90)"><text class="LSb" transform="matrix(0.9027 0 0 1 -2013.1792 0)" font-size="33.0238" fill="#1a1512">4</text></g><g transform="translate(451.8825 0) rotate(-90)"><text class="LSb" transform="matrix(0.9523 0 0 1 -2013.6954 0)" font-size="33.0238" fill="#1a1512">5</text></g><g transform="translate(494.347 0) rotate(-90)"><text class="LSb" transform="matrix(0.9802 0 0 1 -2013.7855 0)" font-size="33.0238" fill="#1a1512">6</text></g><g transform="translate(536.8115 0) rotate(-90)"><text class="LSb" transform="matrix(1.0387 0 0 1 -2014.2659 0)" font-size="33.0238" fill="#1a1512">7</text></g><g transform="translate(579.276 0) rotate(-90)"><text class="LSb" transform="matrix(0.9658 0 0 1 -2013.5802 0)" font-size="33.0238" fill="#1a1512">8</text></g><g transform="translate(621.7405 0) rotate(-90)"><text class="LSb" transform="matrix(0.9843 0 0 1 -2013.7588 0)" font-size="33.0238" fill="#1a1512">9</text></g><g transform="translate(664.205 0) rotate(-90)"><text class="LSb" transform="matrix(1.0321 0 0 1 -2033.1544 0)" font-size="33.0238" fill="#1a1512"><tspan class="NG" font-size="30.0132" stroke="#1a1512" stroke-width="1.321">1</tspan>0</text></g><g transform="translate(706.6695 0) rotate(-90)"><text class="LSb" transform="matrix(1.0767 0 0 1 -2033.3262 0)" font-size="33.0238" fill="#1a1512"><tspan class="NG" font-size="30.0132" stroke="#1a1512" stroke-width="1.321">1</tspan><tspan class="NG" font-size="30.0132" stroke="#1a1512" stroke-width="1.321">1</tspan></text></g><g transform="translate(749.134 0) rotate(-90)"><text class="LSb" transform="matrix(1.0178 0 0 1 -2033.0992 0)" font-size="33.0238" fill="#1a1512"><tspan class="NG" font-size="30.0132" stroke="#1a1512" stroke-width="1.321">1</tspan>2</text></g><g transform="translate(791.5985 0) rotate(-90)"><text class="LSb" transform="matrix(1.0187 0 0 1 -2033.1027 0)" font-size="33.0238" fill="#1a1512"><tspan class="NG" font-size="30.0132" stroke="#1a1512" stroke-width="1.321">1</tspan>3</text></g><g transform="translate(834.063 0) rotate(-90)"><text class="LSb" transform="matrix(0.9967 0 0 1 -2033.0179 0)" font-size="33.0238" fill="#1a1512"><tspan class="NG" font-size="30.0132" stroke="#1a1512" stroke-width="1.321">1</tspan>4</text></g><g transform="translate(876.5275 0) rotate(-90)"><text class="LSb" transform="matrix(1.0099 0 0 1 -2033.0688 0)" font-size="33.0238" fill="#1a1512"><tspan class="NG" font-size="30.0132" stroke="#1a1512" stroke-width="1.321">1</tspan>5</text></g><g transform="translate(918.992 0) rotate(-90)"><text class="LSb" transform="matrix(1.0228 0 0 1 -2033.1183 0)" font-size="33.0238" fill="#1a1512"><tspan class="NG" font-size="30.0132" stroke="#1a1512" stroke-width="1.321">1</tspan>6</text></g><g transform="translate(961.4565 0) rotate(-90)"><text class="LSb" transform="matrix(1.0394 0 0 1 -2033.1825 0)" font-size="33.0238" fill="#1a1512"><tspan class="NG" font-size="30.0132" stroke="#1a1512" stroke-width="1.321">1</tspan>7</text></g><g transform="translate(1003.921 0) rotate(-90)"><text class="LSb" transform="matrix(1.0211 0 0 1 -2033.1118 0)" font-size="33.0238" fill="#1a1512"><tspan class="NG" font-size="30.0132" stroke="#1a1512" stroke-width="1.321">1</tspan>8</text></g><g transform="translate(1046.3855 0) rotate(-90)"><text class="LSb" transform="matrix(1.0259 0 0 1 -2033.1302 0)" font-size="33.0238" fill="#1a1512"><tspan class="NG" font-size="30.0132" stroke="#1a1512" stroke-width="1.321">1</tspan>9</text></g><g transform="translate(1088.85 0) rotate(-90)"><text class="LSb" transform="matrix(0.9852 0 0 1 -2031.68 0)" font-size="33.0238" fill="#1a1512">20</text></g><g transform="translate(1131.3145 0) rotate(-90)"><text class="LSb" transform="matrix(1.0161 0 0 1 -2031.7153 0)" font-size="33.0238" fill="#1a1512">2<tspan class="NG" font-size="30.0132" stroke="#1a1512" stroke-width="1.321">1</tspan></text></g><g transform="translate(1173.779 0) rotate(-90)"><text class="LSb" transform="matrix(0.9722 0 0 1 -2031.665 0)" font-size="33.0238" fill="#1a1512">22</text></g><g transform="translate(1216.2435 0) rotate(-90)"><text class="LSb" transform="matrix(0.9732 0 0 1 -2031.6662 0)" font-size="33.0238" fill="#1a1512">23</text></g><g transform="translate(1258.708 0) rotate(-90)"><text class="LSb" transform="matrix(0.9543 0 0 1 -2031.6445 0)" font-size="33.0238" fill="#1a1512">24</text></g><g transform="translate(1301.1725 0) rotate(-90)"><text class="LSb" transform="matrix(0.9655 0 0 1 -2031.6574 0)" font-size="33.0238" fill="#1a1512">25</text></g><g transform="translate(1343.637 0) rotate(-90)"><text class="LSb" transform="matrix(0.9769 0 0 1 -2031.6704 0)" font-size="33.0238" fill="#1a1512">26</text></g><g transform="translate(1386.1015 0) rotate(-90)"><text class="LSb" transform="matrix(0.9918 0 0 1 -2031.6875 0)" font-size="33.0238" fill="#1a1512">27</text></g><g transform="translate(1428.566 0) rotate(-90)"><text class="LSb" transform="matrix(0.9756 0 0 1 -2031.6689 0)" font-size="33.0238" fill="#1a1512">28</text></g><g transform="translate(1471.0305 0) rotate(-90)"><text class="LSb" transform="matrix(0.9797 0 0 1 -2031.6736 0)" font-size="33.0238" fill="#1a1512">29</text></g><g transform="translate(1513.495 0) rotate(-90)"><text class="LSb" transform="matrix(0.9733 0 0 1 -2031.2576 0)" font-size="33.0238" fill="#1a1512">30</text></g><g transform="translate(1555.9595 0) rotate(-90)"><text class="LSb" transform="matrix(1.0014 0 0 1 -2031.2789 0)" font-size="33.0238" fill="#1a1512">3<tspan class="NG" font-size="30.0132" stroke="#1a1512" stroke-width="1.321">1</tspan></text></g><g transform="translate(1598.424 0) rotate(-90)"><text class="LSb" transform="matrix(0.9604 0 0 1 -2031.2479 0)" font-size="33.0238" fill="#1a1512">32</text></g><g transform="translate(1640.8885 0) rotate(-90)"><text class="LSb" transform="matrix(0.9614 0 0 1 -2031.2486 0)" font-size="33.0238" fill="#1a1512">33</text></g><g transform="translate(1683.353 0) rotate(-90)"><text class="LSb" transform="matrix(0.9431 0 0 1 -2031.2347 0)" font-size="33.0238" fill="#1a1512">34</text></g><g transform="translate(1725.8175 0) rotate(-90)"><text class="LSb" transform="matrix(0.9539 0 0 1 -2031.2429 0)" font-size="33.0238" fill="#1a1512">35</text></g><g transform="translate(1768.282 0) rotate(-90)"><text class="LSb" transform="matrix(0.9651 0 0 1 -2031.2514 0)" font-size="33.0238" fill="#1a1512">36</text></g><g transform="translate(1810.7465 0) rotate(-90)"><text class="LSb" transform="matrix(0.9797 0 0 1 -2031.2625 0)" font-size="33.0238" fill="#1a1512">37</text></g><g transform="translate(1853.211 0) rotate(-90)"><text class="LSb" transform="matrix(0.9639 0 0 1 -2031.2505 0)" font-size="33.0238" fill="#1a1512">38</text></g><g transform="translate(1895.6755 0) rotate(-90)"><text class="LSb" transform="matrix(0.9679 0 0 1 -2031.2535 0)" font-size="33.0238" fill="#1a1512">39</text></g><g transform="translate(1938.14 0) rotate(-90)"><text class="LSb" transform="matrix(0.9661 0 0 1 -2031.0029 0)" font-size="33.0238" fill="#1a1512">40</text></g><g transform="translate(1980.6045 0) rotate(-90)"><text class="LSb" transform="matrix(0.9926 0 0 1 -2031.0162 0)" font-size="33.0238" fill="#1a1512">4<tspan class="NG" font-size="30.0132" stroke="#1a1512" stroke-width="1.321">1</tspan></text></g><g transform="translate(2023.069 0) rotate(-90)"><text class="LSb" transform="matrix(0.9533 0 0 1 -2030.9965 0)" font-size="33.0238" fill="#1a1512">42</text></g><g transform="translate(2065.5335 0) rotate(-90)"><text class="LSb" transform="matrix(0.9544 0 0 1 -2030.9971 0)" font-size="33.0238" fill="#1a1512">43</text></g><g transform="translate(2107.998 0) rotate(-90)"><text class="LSb" transform="matrix(0.9363 0 0 1 -2030.9881 0)" font-size="33.0238" fill="#1a1512">44</text></g><g transform="translate(2150.4625 0) rotate(-90)"><text class="LSb" transform="matrix(0.9469 0 0 1 -2030.9934 0)" font-size="33.0238" fill="#1a1512">45</text></g><g transform="translate(2192.927 0) rotate(-90)"><text class="LSb" transform="matrix(0.958 0 0 1 -2030.9989 0)" font-size="33.0238" fill="#1a1512">46</text></g><g transform="translate(2235.3915 0) rotate(-90)"><text class="LSb" transform="matrix(0.9725 0 0 1 -2031.0061 0)" font-size="33.0238" fill="#1a1512">47</text></g><g transform="translate(2277.856 0) rotate(-90)"><text class="LSb" transform="matrix(0.9568 0 0 1 -2030.9983 0)" font-size="33.0238" fill="#1a1512">48</text></g><g transform="translate(2320.3205 0) rotate(-90)"><text class="LSb" transform="matrix(0.9607 0 0 1 -2031.0002 0)" font-size="33.0238" fill="#1a1512">49</text></g><g transform="translate(2362.785 0) rotate(-90)"><text class="LSb" transform="matrix(0.9806 0 0 1 -2031.5162 0)" font-size="33.0238" fill="#1a1512">50</text></g><g transform="translate(204 0) rotate(-90)"><text class="LSb" transform="matrix(1.0741 0 0 1 -1806.7368 -0.3085)" font-size="31.5915" fill="#1a1512">bits</text></g><text class="LSr" transform="matrix(1.1058 0 0 1 2138.5815 2054)" font-size="14.5351" fill="#2e2926" stroke="#2e2926" stroke-width="0.55">MEME (no SSC) 04.<tspan class="NGr" font-size="13.459" stroke="#2e2926" stroke-width="0.1744">1</tspan><tspan class="NGr" font-size="13.459" stroke="#2e2926" stroke-width="0.1744">1</tspan>.2024 <tspan class="NGr" font-size="13.459" stroke="#2e2926" stroke-width="0.1744">1</tspan>7:52</text>
<rect x="253.2" y="2076" width="3" height="432.5" fill="#1a1512"/><rect x="238.7" y="2506" width="16" height="2.6" fill="#1a1512"/><text class="LSb" transform="matrix(0.331 0 0 0.3295 219.4227 2518.9462)" font-size="100" fill="#1a1512">0</text><rect x="238.7" y="2406.12" width="16" height="2.6" fill="#1a1512"/><text class="NG" transform="matrix(0.3946 0 0 0.2989 216.848 2418.6903)" font-size="100" fill="#1a1512">1</text><rect x="238.7" y="2306.24" width="16" height="2.6" fill="#1a1512"/><text class="LSb" transform="matrix(0.3224 0 0 0.3254 219.4224 2318.9)" font-size="100" fill="#1a1512">2</text><rect x="238.7" y="2206.36" width="16" height="2.6" fill="#1a1512"/><text class="LSb" transform="matrix(0.3148 0 0 0.3288 219.8495 2219.2587)" font-size="100" fill="#1a1512">3</text><rect x="238.7" y="2106.48" width="16" height="2.6" fill="#1a1512"/><text class="LSb" transform="matrix(0.2981 0 0 0.3302 220.1208 2119.14)" font-size="100" fill="#1a1512">4</text><g transform="translate(295.606 0) rotate(-90)"><text class="LSb" transform="matrix(1.3148 0 0 1 -2530.252 0)" font-size="33.0238" fill="#1a1512"><tspan class="NG" font-size="30.0132" stroke="#1a1512" stroke-width="1.321">1</tspan></text></g><g transform="translate(346.152 0) rotate(-90)"><text class="LSb" transform="matrix(0.9762 0 0 1 -2527.6776 0)" font-size="33.0238" fill="#1a1512">2</text></g><g transform="translate(396.698 0) rotate(-90)"><text class="LSb" transform="matrix(0.9533 0 0 1 -2527.2505 0)" font-size="33.0238" fill="#1a1512">3</text></g><g transform="translate(447.244 0) rotate(-90)"><text class="LSb" transform="matrix(0.9027 0 0 1 -2526.9792 0)" font-size="33.0238" fill="#1a1512">4</text></g><g transform="translate(497.79 0) rotate(-90)"><text class="LSb" transform="matrix(0.9523 0 0 1 -2527.4954 0)" font-size="33.0238" fill="#1a1512">5</text></g><g transform="translate(548.336 0) rotate(-90)"><text class="LSb" transform="matrix(0.9802 0 0 1 -2527.5855 0)" font-size="33.0238" fill="#1a1512">6</text></g><g transform="translate(598.882 0) rotate(-90)"><text class="LSb" transform="matrix(1.0387 0 0 1 -2528.0659 0)" font-size="33.0238" fill="#1a1512">7</text></g><g transform="translate(649.428 0) rotate(-90)"><text class="LSb" transform="matrix(0.9658 0 0 1 -2527.3802 0)" font-size="33.0238" fill="#1a1512">8</text></g><g transform="translate(699.974 0) rotate(-90)"><text class="LSb" transform="matrix(0.9843 0 0 1 -2527.5588 0)" font-size="33.0238" fill="#1a1512">9</text></g><g transform="translate(750.52 0) rotate(-90)"><text class="LSb" transform="matrix(1.0321 0 0 1 -2546.9544 0)" font-size="33.0238" fill="#1a1512"><tspan class="NG" font-size="30.0132" stroke="#1a1512" stroke-width="1.321">1</tspan>0</text></g><g transform="translate(801.066 0) rotate(-90)"><text class="LSb" transform="matrix(1.0767 0 0 1 -2547.1262 0)" font-size="33.0238" fill="#1a1512"><tspan class="NG" font-size="30.0132" stroke="#1a1512" stroke-width="1.321">1</tspan><tspan class="NG" font-size="30.0132" stroke="#1a1512" stroke-width="1.321">1</tspan></text></g><g transform="translate(851.612 0) rotate(-90)"><text class="LSb" transform="matrix(1.0178 0 0 1 -2546.8992 0)" font-size="33.0238" fill="#1a1512"><tspan class="NG" font-size="30.0132" stroke="#1a1512" stroke-width="1.321">1</tspan>2</text></g><g transform="translate(902.158 0) rotate(-90)"><text class="LSb" transform="matrix(1.0187 0 0 1 -2546.9027 0)" font-size="33.0238" fill="#1a1512"><tspan class="NG" font-size="30.0132" stroke="#1a1512" stroke-width="1.321">1</tspan>3</text></g><g transform="translate(952.704 0) rotate(-90)"><text class="LSb" transform="matrix(0.9967 0 0 1 -2546.8179 0)" font-size="33.0238" fill="#1a1512"><tspan class="NG" font-size="30.0132" stroke="#1a1512" stroke-width="1.321">1</tspan>4</text></g><g transform="translate(1003.25 0) rotate(-90)"><text class="LSb" transform="matrix(1.0099 0 0 1 -2546.8688 0)" font-size="33.0238" fill="#1a1512"><tspan class="NG" font-size="30.0132" stroke="#1a1512" stroke-width="1.321">1</tspan>5</text></g><g transform="translate(1053.796 0) rotate(-90)"><text class="LSb" transform="matrix(1.0228 0 0 1 -2546.9183 0)" font-size="33.0238" fill="#1a1512"><tspan class="NG" font-size="30.0132" stroke="#1a1512" stroke-width="1.321">1</tspan>6</text></g><g transform="translate(1104.342 0) rotate(-90)"><text class="LSb" transform="matrix(1.0394 0 0 1 -2546.9825 0)" font-size="33.0238" fill="#1a1512"><tspan class="NG" font-size="30.0132" stroke="#1a1512" stroke-width="1.321">1</tspan>7</text></g><g transform="translate(1154.888 0) rotate(-90)"><text class="LSb" transform="matrix(1.0211 0 0 1 -2546.9118 0)" font-size="33.0238" fill="#1a1512"><tspan class="NG" font-size="30.0132" stroke="#1a1512" stroke-width="1.321">1</tspan>8</text></g><g transform="translate(1205.434 0) rotate(-90)"><text class="LSb" transform="matrix(1.0259 0 0 1 -2546.9302 0)" font-size="33.0238" fill="#1a1512"><tspan class="NG" font-size="30.0132" stroke="#1a1512" stroke-width="1.321">1</tspan>9</text></g><g transform="translate(1255.98 0) rotate(-90)"><text class="LSb" transform="matrix(0.9852 0 0 1 -2545.48 0)" font-size="33.0238" fill="#1a1512">20</text></g><g transform="translate(1306.526 0) rotate(-90)"><text class="LSb" transform="matrix(1.0161 0 0 1 -2545.5153 0)" font-size="33.0238" fill="#1a1512">2<tspan class="NG" font-size="30.0132" stroke="#1a1512" stroke-width="1.321">1</tspan></text></g><g transform="translate(1357.072 0) rotate(-90)"><text class="LSb" transform="matrix(0.9722 0 0 1 -2545.465 0)" font-size="33.0238" fill="#1a1512">22</text></g><g transform="translate(1407.618 0) rotate(-90)"><text class="LSb" transform="matrix(0.9732 0 0 1 -2545.4662 0)" font-size="33.0238" fill="#1a1512">23</text></g><g transform="translate(1458.164 0) rotate(-90)"><text class="LSb" transform="matrix(0.9543 0 0 1 -2545.4445 0)" font-size="33.0238" fill="#1a1512">24</text></g><g transform="translate(1508.71 0) rotate(-90)"><text class="LSb" transform="matrix(0.9655 0 0 1 -2545.4574 0)" font-size="33.0238" fill="#1a1512">25</text></g><g transform="translate(1559.256 0) rotate(-90)"><text class="LSb" transform="matrix(0.9769 0 0 1 -2545.4704 0)" font-size="33.0238" fill="#1a1512">26</text></g><g transform="translate(1609.802 0) rotate(-90)"><text class="LSb" transform="matrix(0.9918 0 0 1 -2545.4875 0)" font-size="33.0238" fill="#1a1512">27</text></g><g transform="translate(1660.348 0) rotate(-90)"><text class="LSb" transform="matrix(0.9756 0 0 1 -2545.4689 0)" font-size="33.0238" fill="#1a1512">28</text></g><g transform="translate(1710.894 0) rotate(-90)"><text class="LSb" transform="matrix(0.9797 0 0 1 -2545.4736 0)" font-size="33.0238" fill="#1a1512">29</text></g><g transform="translate(1761.44 0) rotate(-90)"><text class="LSb" transform="matrix(0.9733 0 0 1 -2545.0576 0)" font-size="33.0238" fill="#1a1512">30</text></g><g transform="translate(1811.986 0) rotate(-90)"><text class="LSb" transform="matrix(1.0014 0 0 1 -2545.0789 0)" font-size="33.0238" fill="#1a1512">3<tspan class="NG" font-size="30.0132" stroke="#1a1512" stroke-width="1.321">1</tspan></text></g><g transform="translate(1862.532 0) rotate(-90)"><text class="LSb" transform="matrix(0.9604 0 0 1 -2545.0479 0)" font-size="33.0238" fill="#1a1512">32</text></g><g transform="translate(1913.078 0) rotate(-90)"><text class="LSb" transform="matrix(0.9614 0 0 1 -2545.0486 0)" font-size="33.0238" fill="#1a1512">33</text></g><g transform="translate(1963.624 0) rotate(-90)"><text class="LSb" transform="matrix(0.9431 0 0 1 -2545.0347 0)" font-size="33.0238" fill="#1a1512">34</text></g><g transform="translate(2014.17 0) rotate(-90)"><text class="LSb" transform="matrix(0.9539 0 0 1 -2545.0429 0)" font-size="33.0238" fill="#1a1512">35</text></g><g transform="translate(2064.716 0) rotate(-90)"><text class="LSb" transform="matrix(0.9651 0 0 1 -2545.0514 0)" font-size="33.0238" fill="#1a1512">36</text></g><g transform="translate(2115.262 0) rotate(-90)"><text class="LSb" transform="matrix(0.9797 0 0 1 -2545.0625 0)" font-size="33.0238" fill="#1a1512">37</text></g><g transform="translate(2165.808 0) rotate(-90)"><text class="LSb" transform="matrix(0.9639 0 0 1 -2545.0505 0)" font-size="33.0238" fill="#1a1512">38</text></g><g transform="translate(2216.354 0) rotate(-90)"><text class="LSb" transform="matrix(0.9679 0 0 1 -2545.0535 0)" font-size="33.0238" fill="#1a1512">39</text></g><g transform="translate(2266.9 0) rotate(-90)"><text class="LSb" transform="matrix(0.9661 0 0 1 -2544.8029 0)" font-size="33.0238" fill="#1a1512">40</text></g><g transform="translate(2317.446 0) rotate(-90)"><text class="LSb" transform="matrix(0.9926 0 0 1 -2544.8162 0)" font-size="33.0238" fill="#1a1512">4<tspan class="NG" font-size="30.0132" stroke="#1a1512" stroke-width="1.321">1</tspan></text></g><g transform="translate(2367.992 0) rotate(-90)"><text class="LSb" transform="matrix(0.9533 0 0 1 -2544.7965 0)" font-size="33.0238" fill="#1a1512">42</text></g><g transform="translate(214.7 0) rotate(-90)"><text class="LSb" transform="matrix(0.9603 0 0 1 -2321.1895 -0.3378)" font-size="34.5872" fill="#1a1512">bits</text></g><text class="LSr" transform="matrix(1.1031 0 0 1 2147.6847 2567.6)" font-size="14.5351" fill="#2e2926" stroke="#2e2926" stroke-width="0.55">MEME (no SSC) 04.<tspan class="NGr" font-size="13.459" stroke="#2e2926" stroke-width="0.1744">1</tspan><tspan class="NGr" font-size="13.459" stroke="#2e2926" stroke-width="0.1744">1</tspan>.2024 <tspan class="NGr" font-size="13.459" stroke="#2e2926" stroke-width="0.1744">1</tspan>7:53</text></svg></body></html>
